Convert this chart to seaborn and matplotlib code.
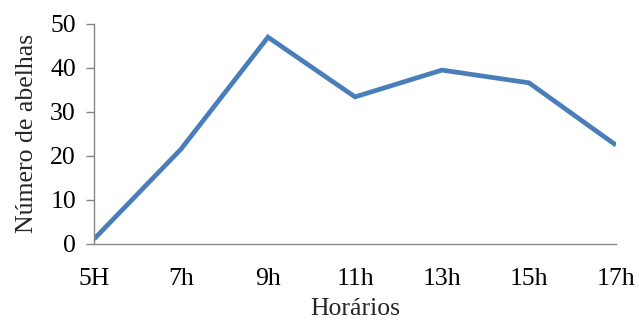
import matplotlib
matplotlib.use("Agg")
import matplotlib.pyplot as plt
import seaborn as sns
import pandas as pd

# Bee counts per observation time
horarios = ["5H", "7h", "9h", "11h", "13h", "15h", "17h"]
abelhas = [1, 21.5, 47, 33.4, 39.5, 36.6, 22.4]
y_ticks = [0, 10, 20, 30, 40, 50]

df = pd.DataFrame({"pos": range(len(horarios)), "abelhas": abelhas})

sns.set_style("white")
plt.rcParams["font.family"] = ["Liberation Serif", "DejaVu Serif"]

FS = 18.5

fig = plt.figure(figsize=(6.39, 3.24), dpi=100)
ax = fig.add_axes([94 / 639, 1 - 243.5 / 324, (616 - 94) / 639, (243.5 - 24) / 324])

sns.lineplot(data=df, x="pos", y="abelhas", ax=ax, color="#4a7ebb",
             linewidth=3.4, solid_capstyle="butt", solid_joinstyle="miter")

ax.set_xlim(0, len(horarios) - 1)
ax.set_ylim(0, 50)
ax.set_xticks(range(len(horarios)))
ax.set_xticklabels(horarios)
ax.set_yticks(y_ticks)

grey = "#868686"
for side in ["top", "right"]:
    ax.spines[side].set_visible(False)
for side in ["left", "bottom"]:
    ax.spines[side].set_color(grey)
    ax.spines[side].set_linewidth(1.0)

ax.tick_params(axis="y", direction="out", length=6, width=1.0, color=grey,
               pad=7, labelsize=FS, labelcolor="black", left=True)
ax.tick_params(axis="x", length=0, pad=17.5, labelsize=FS, labelcolor="black")

ax.set_xlabel("Horários", fontsize=FS, labelpad=6)
ax.set_ylabel("Número de abelhas", fontsize=FS, labelpad=9)

fig.savefig("out.png", dpi=100)
